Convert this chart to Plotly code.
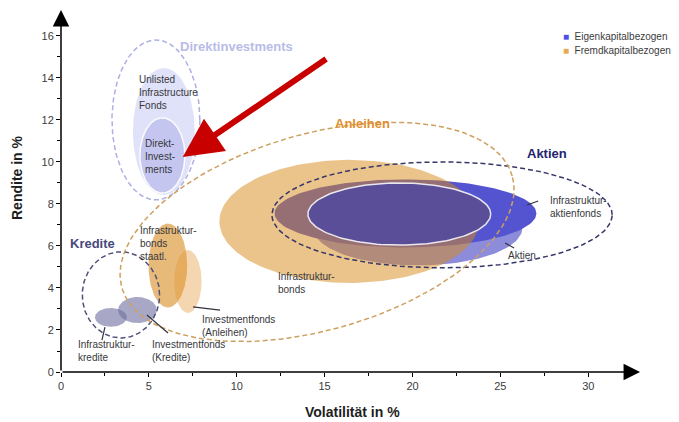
import numpy as np
import plotly.graph_objects as go

# ---------------- data ----------------
direkt_outer = dict(cx=5.4, cy=12.0, rx=2.5, ry=3.81)
unlisted = dict(cx=5.85, cy=11.45, rx=1.76, ry=3.02)
direkt_inner = dict(cx=5.77, cy=10.31, rx=1.28, ry=1.79)

anleihen_group = dict(cx=14.57, cy=6.67, rx=11.55, ry=4.67, tilt=16)
aktien_group = dict(cx=21.68, cy=7.48, rx=9.68, ry=2.52)
kredite_group = dict(cx=3.41, cy=3.67, rx=2.2, ry=2.05)

infra_bonds = dict(cx=16.4, cy=7.17, rx=7.39, ry=2.93)
infra_aktienfonds = dict(cx=19.6, cy=7.55, rx=7.45, ry=1.62)
aktien = dict(cx=20.3, cy=6.85, rx=5.95, ry=1.78)
aktien_core = dict(cx=19.25, cy=7.52, rx=5.2, ry=1.48)

bonds_staatl = dict(cx=6.08, cy=5.07, rx=1.1, ry=2.0)
invest_anleihen = dict(cx=7.22, cy=4.31, rx=0.78, ry=1.5)
infra_kredite = dict(cx=2.84, cy=2.6, rx=0.91, ry=0.45)
invest_kredite = dict(cx=4.35, cy=2.95, rx=1.1, ry=0.62)

x_ticks = [0, 5, 10, 15, 20, 25, 30]
y_ticks = [0, 2, 4, 6, 8, 10, 12, 14, 16]
legend_names = ["Eigenkapitalbezogen", "Fremdkapitalbezogen"]
legend_colors = ["rgb(80,80,230)", "rgb(230,170,80)"]

# ---------------- layout constants ----------------
W, H = 668, 412
ML, MT, MB = 53, 0, 48
XR = [0, 33.4]
YR = [0, 17.33]
MR = 28
PW = W - ML - MR
PH = H - MT - MB
PX_X = PW / (XR[1] - XR[0])
PX_Y = PH / (YR[1] - YR[0])
FONT = "Liberation Sans, Arial, sans-serif"


def ellipse(cx, cy, rx, ry, tilt=0, n=160):
    t = np.linspace(0, 2 * np.pi, n)
    th = np.radians(tilt)
    a, b = rx * PX_X, ry * PX_Y
    dx = a * np.cos(t) * np.cos(th) - b * np.sin(t) * np.sin(th)
    dy = a * np.cos(t) * np.sin(th) + b * np.sin(t) * np.cos(th)
    return cx + dx / PX_X, cy + dy / PX_Y


fig = go.Figure()


def filled(e, color, line_color=None, line_width=0):
    x, y = ellipse(**e)
    fig.add_trace(go.Scatter(
        x=x, y=y, mode="lines", fill="toself", fillcolor=color,
        line=dict(color=line_color or "rgba(0,0,0,0)", width=line_width),
        hoverinfo="skip", showlegend=False))


def dashed(e, color, width=1.5):
    x, y = ellipse(**e)
    fig.add_trace(go.Scatter(
        x=x, y=y, mode="lines",
        line=dict(color=color, width=width, dash="5px,3px"),
        hoverinfo="skip", showlegend=False))


# Direktinvestments
filled(unlisted, "rgb(224,226,249)")
filled(direkt_inner, "rgb(196,198,240)", "rgba(255,255,255,0.9)", 1.5)
dashed(direkt_outer, "rgb(172,176,226)")

# Kredite
filled(infra_kredite, "rgba(110,110,160,0.6)")
filled(invest_kredite, "rgba(110,110,160,0.6)")

# Anleihen small
filled(bonds_staatl, "rgba(222,160,70,0.72)")
filled(invest_anleihen, "rgba(225,150,50,0.38)")

# Aktien blues and bonds
filled(aktien, "rgb(140,140,218)")
filled(infra_aktienfonds, "rgb(84,84,208)")
filled(infra_bonds, "rgba(215,137,25,0.5)")
filled(aktien_core, "rgb(90,78,152)", "rgba(255,255,255,0.85)", 1.5)

dashed(kredite_group, "rgb(80,80,125)")
dashed(aktien_group, "rgb(55,55,105)")
dashed(anleihen_group, "rgb(205,160,95)")

# leader lines
leaders = [
    ((4.89, 2.71), (6.09, 1.86)),
    ((2.5, 2.14), (2.33, 1.52)),
    ((7.51, 3.1), (9.05, 2.95)),
    ((26.52, 7.95), (27.15, 8.14)),
    ((25.27, 6.14), (25.78, 5.9)),
]
for (x0, y0), (x1, y1) in leaders:
    fig.add_shape(type="line", x0=x0, y0=y0, x1=x1, y1=y1, xref="x", yref="y",
                  line=dict(color="rgb(50,50,60)", width=1.2))

# labels
small = [
    (4.33, 13.29, "Unlisted<br>Infrastructure<br>Fonds"),
    (4.67, 10.24, "Direkt-<br>Invest-<br>ments"),
    (4.38, 6.1, "Infrastruktur-<br>bonds<br>staatl."),
    (12.24, 4.24, "Infrastruktur-<br>bonds"),
    (7.91, 2.19, "Investmentfonds<br>(Anleihen)"),
    (0.85, 1.0, "Infrastruktur-<br>kredite"),
    (5.07, 1.0, "Investmentfonds<br>(Kredite)"),
    (27.72, 7.86, "Infrastruktur-<br>aktienfonds"),
    (25.33, 5.57, "Aktien"),
]
for x, y, t in small:
    fig.add_annotation(x=x, y=y, text=t, showarrow=False, xanchor="left", yanchor="middle",
                       align="left", font=dict(family=FONT, size=10, color="rgb(55,55,60)"))

groups = [
    (9.99, 15.52, "Direktinvestments", "rgb(184,188,232)"),
    (17.13, 11.81, "Anleihen", "rgb(226,142,45)"),
    (27.66, 10.38, "Aktien", "rgb(35,35,110)"),
    (1.82, 6.14, "Kredite", "rgb(72,72,125)"),
]
for x, y, t, c in groups:
    fig.add_annotation(x=x, y=y, text="<b>" + t + "</b>", showarrow=False,
                       xanchor="center", yanchor="middle",
                       font=dict(family=FONT, size=13, color=c))

# legend (drawn as text)
for i, (name, col) in enumerate(zip(legend_names, legend_colors)):
    fig.add_annotation(xref="paper", yref="paper", x=0.852, y=0.923 - i * 0.039,
                       xanchor="left", yanchor="middle", showarrow=False,
                       text='<span style="color:%s">■</span>&nbsp;&nbsp;%s' % (col, name),
                       font=dict(family=FONT, size=10, color="rgb(60,60,60)"))

# axis titles
fig.add_annotation(xref="paper", yref="paper", x=(344 - ML) / PW, y=(H - MB - 404) / PH,
                   text="<b>Volatilität in %</b>", showarrow=False, xanchor="center",
                   yanchor="middle", font=dict(family=FONT, size=14, color="rgb(30,30,30)"))
fig.add_annotation(xref="paper", yref="paper", x=(9 - ML) / PW, y=(H - MB - 170) / PH,
                   text="<b>Rendite in %</b>", showarrow=False, xanchor="center",
                   yanchor="middle", textangle=-90,
                   font=dict(family=FONT, size=14, color="rgb(30,30,30)"))

# red arrow
fig.add_annotation(x=6.93, y=10.24, ax=15.17, ay=14.95, xref="x", yref="y", axref="x", ayref="y",
                   text="", showarrow=True, arrowhead=2, arrowsize=1.3, arrowwidth=6,
                   arrowcolor="rgb(200,0,0)")

# axis arrows
fig.add_annotation(x=32.95, y=0, ax=0, ay=0, xref="x", yref="y", axref="x", ayref="y",
                   text="", showarrow=True, arrowhead=2, arrowsize=2.2, arrowwidth=1.5,
                   arrowcolor="black")
fig.add_annotation(x=0, y=17.24, ax=0, ay=0, xref="x", yref="y", axref="x", ayref="y",
                   text="", showarrow=True, arrowhead=2, arrowsize=2.2, arrowwidth=1.5,
                   arrowcolor="black")

axis_common = dict(showgrid=False, zeroline=False, showline=False, ticks="outside",
                   ticklen=4, tickwidth=1, tickcolor="black",
                   tickfont=dict(family=FONT, size=11, color="rgb(60,60,60)"),
                   automargin=False)

fig.update_layout(
    width=W, height=H,
    margin=dict(l=ML, r=MR, t=MT, b=MB, autoexpand=False),
    paper_bgcolor="white", plot_bgcolor="white",
    xaxis=dict(range=XR, tickvals=x_ticks, ticktext=[str(v) for v in x_ticks],
               minor=dict(tickvals=[2.5, 7.5, 12.5, 17.5, 22.5, 27.5], ticks="outside",
                          ticklen=3, tickcolor="black"),
               **axis_common),
    yaxis=dict(range=YR, tickvals=y_ticks, ticktext=[str(v) for v in y_ticks],
               minor=dict(tickvals=[1, 3, 5, 7, 9, 11, 13, 15], ticks="outside",
                          ticklen=3, tickcolor="black"),
               **axis_common),
    showlegend=False,
)

fig.write_html("out.html")
